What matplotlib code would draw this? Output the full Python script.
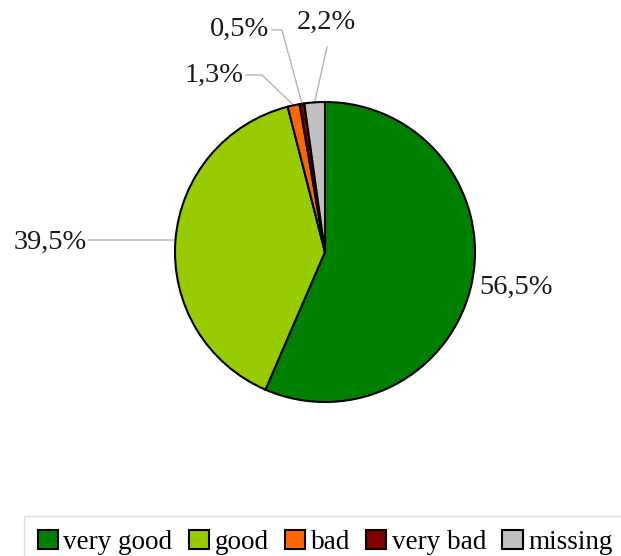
import matplotlib
matplotlib.use('Agg')

import numpy as np
import matplotlib.pyplot as plt
from matplotlib.patches import Patch

categories = ['very good', 'good', 'bad', 'very bad', 'missing']
shares = [56.5, 39.5, 1.3, 0.5, 2.2]
colors = ['#008000', '#99cc00', '#ff6600', '#800000', '#c0c0c0']

W, H = 621, 556
CX, CY, R = 325, 252, 150


def py(y):
    # pixel row -> data y (axes in pixel units, y up)
    return H - y


fig = plt.figure(figsize=(W / 100, H / 100), dpi=100)
ax = fig.add_axes([0, 0, 1, 1])

wedges, _ = ax.pie(shares, colors=colors, startangle=90, counterclock=False,
                   center=(CX, py(CY)), radius=R,
                   wedgeprops=dict(edgecolor='black', linewidth=1.5))
ax.set_xlim(0, W)
ax.set_ylim(0, H)
ax.set_aspect('auto')
ax.axis('off')


def edge_point(w):
    ang = np.deg2rad((w.theta1 + w.theta2) / 2)
    return CX + R * np.cos(ang), py(CY) + R * np.sin(ang)


font = dict(family='Liberation Serif', fontsize=20.5, color='#1a1a1a')
line = dict(color='#b5b5b5', linewidth=1.0, zorder=0)

# label text anchor (pixel coords) and leader path after the wedge edge
labels = [
    dict(xy=(479, 287), ha='left', path=None),
    dict(xy=(87, 242), ha='right', path=[(175, 240), (88, 240)]),
    dict(xy=(244, 75), ha='right', path=[(262, 75), (246, 75)]),
    dict(xy=(269, 29), ha='right', path=[(282, 30), (272, 30)]),
    dict(xy=(297, 22), ha='left', path=[(327, 47)]),
]

for w, share, lab in zip(wedges, shares, labels):
    txt = f"{share:.1f}%".replace('.', ',')
    ax.text(lab['xy'][0], py(lab['xy'][1]), txt, ha=lab['ha'], va='center', **font)
    if lab['path']:
        ex, ey = edge_point(w)
        xs = [ex] + [p[0] for p in lab['path']]
        ys = [ey] + [py(p[1]) for p in lab['path']]
        ax.plot(xs, ys, **line)

handles = [Patch(facecolor=c, edgecolor='black', linewidth=1.5) for c in colors]
leg = fig.legend(handles, categories, loc='upper left', ncol=5,
                 bbox_to_anchor=(24 / W, 1 - 516 / H), borderaxespad=0,
                 prop=dict(family='Liberation Serif', size=19.5),
                 handlelength=0.75, handleheight=0.75, handletextpad=0.2,
                 columnspacing=0.6, borderpad=0.5,
                 frameon=True, fancybox=False, edgecolor='#d8d8d8')
leg.get_frame().set_linewidth(1.0)

fig.savefig('out.png', dpi=100)
